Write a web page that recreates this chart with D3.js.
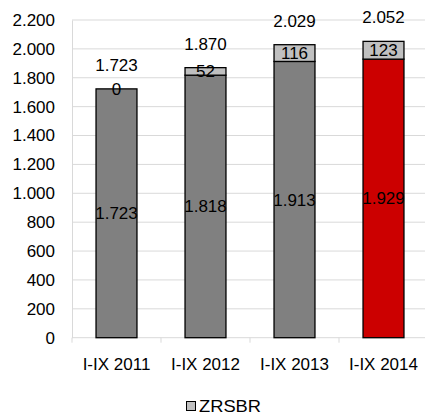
<!DOCTYPE html>
<html><head><meta charset="utf-8">
<script src="https://cdn.jsdelivr.net/npm/d3@7"></script>
<style>body{margin:0;background:#fff}svg{display:block;font-family:"Liberation Sans",Arial,sans-serif}</style>
</head><body><svg id="c" width="425" height="416"></svg>
<script>
const categories = ["I-IX 2011","I-IX 2012","I-IX 2013","I-IX 2014"];
const baseValues = [1723,1818,1913,1929];
const zrsbrValues = [0,52,116,123];
const totals = [1723,1870,2029,2052];
const yTicks = [0,200,400,600,800,1000,1200,1400,1600,1800,2000,2200];
const baseColors = ["#808080","#808080","#808080","#cc0000"];
const legendLabel = "ZRSBR";

const svg = d3.select("#c");
const fmt = v => d3.format(",")(v).replace(/,/g, ".");
const x = d3.scaleBand().domain(categories).range([72, 428]).paddingInner(0.54).paddingOuter(0.27);
const y = d3.scaleLinear().domain([0, 2200]).range([337.7, 20]);
const fs = 17;

// gridlines
svg.append("g").selectAll("line").data(yTicks.slice(1)).join("line")
  .attr("x1", 72).attr("x2", 428).attr("y1", d => y(d)).attr("y2", d => y(d))
  .attr("stroke", "#d9d9d9").attr("stroke-width", 1);

// y axis
const ya = svg.append("g").attr("transform", "translate(72,0)").call(d3.axisLeft(y).tickValues(yTicks).tickFormat(fmt).tickSize(0).tickPadding(17));
ya.select(".domain").attr("stroke", "#d9d9d9");
ya.selectAll("text").attr("font-size", fs).attr("fill", "#000").attr("font-family", "Liberation Sans, Arial, sans-serif");

// x axis
const xa = svg.append("g").attr("transform", `translate(0,${y(0)})`).call(d3.axisBottom(x).tickSize(0).tickPadding(20));
xa.select(".domain").attr("stroke", "#d9d9d9").attr("d", "M72,0H428");
xa.selectAll("text").attr("font-size", fs).attr("fill", "#000").attr("font-family", "Liberation Sans, Arial, sans-serif");
const step = x.step();
svg.append("g").selectAll("line").data(d3.range(categories.length + 1)).join("line")
  .attr("x1", i => 72 + i * step).attr("x2", i => 72 + i * step)
  .attr("y1", y(0)).attr("y2", y(0) + 5).attr("stroke", "#d9d9d9");

// bars
const g = svg.append("g");
categories.forEach((c, i) => {
  g.append("rect").attr("x", x(c)).attr("width", x.bandwidth())
    .attr("y", y(baseValues[i])).attr("height", y(0) - y(baseValues[i]))
    .attr("fill", baseColors[i]).attr("stroke", "#000").attr("stroke-width", 1.3);
  if (zrsbrValues[i] > 0) {
    g.append("rect").attr("x", x(c)).attr("width", x.bandwidth())
      .attr("y", y(baseValues[i] + zrsbrValues[i])).attr("height", y(baseValues[i]) - y(baseValues[i] + zrsbrValues[i]))
      .attr("fill", "#c0c0c0").attr("stroke", "#000").attr("stroke-width", 1.3);
  }
});

// labels
const lab = svg.append("g").attr("font-size", fs).attr("text-anchor", "middle").attr("fill", "#000");
categories.forEach((c, i) => {
  const cx = x(c) + x.bandwidth() / 2;
  lab.append("text").attr("x", cx).attr("y", (y(baseValues[i]) + y(0)) / 2).attr("dy", "0.35em").text(fmt(baseValues[i]));
  lab.append("text").attr("x", cx).attr("y", (y(baseValues[i]) + y(baseValues[i] + zrsbrValues[i])) / 2).attr("dy", "0.35em").text(fmt(zrsbrValues[i]));
  lab.append("text").attr("x", cx).attr("y", y(totals[i]) - 24).attr("dy", "0.35em").text(fmt(totals[i]));
});

// legend
const lg = svg.append("g");
lg.append("rect").attr("x", 186.5).attr("y", 401.5).attr("width", 9).attr("height", 9).attr("fill", "#c0c0c0").attr("stroke", "#000").attr("stroke-width", 1);
lg.append("text").attr("x", 199).attr("y", 412).attr("font-size", fs).attr("textLength", 62).attr("lengthAdjust", "spacingAndGlyphs").attr("fill", "#000").text(legendLabel);
</script></body></html>
